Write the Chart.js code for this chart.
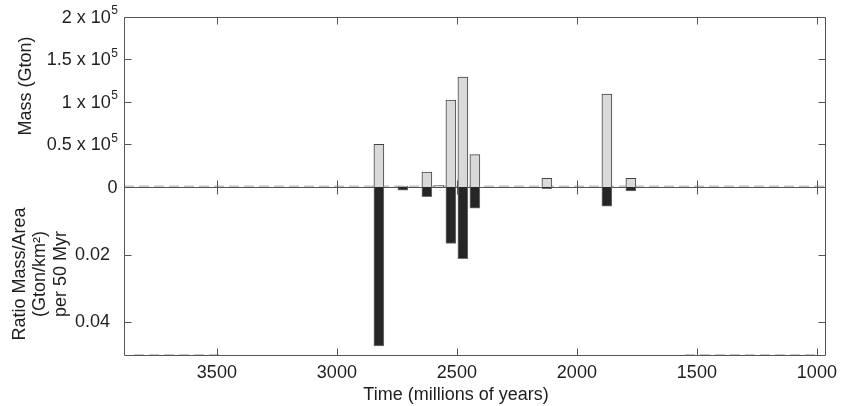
<!DOCTYPE html>
<html>
<head>
<meta charset="utf-8">
<script src="https://cdn.jsdelivr.net/npm/chart.js@4.4.1/dist/chart.umd.min.js"></script>
<style>
  html, body { margin: 0; padding: 0; background: #fff; }
  #wrap { width: 847px; height: 406px; }
</style>
</head>
<body>
<div id="wrap"><canvas id="chart"></canvas></div>
<script>
// bin centres (millions of years) and the two series
const times = [2825, 2725, 2625, 2575, 2525, 2475, 2425, 2125, 1875, 1775];
const massGton = [50000, 800, 17500, 1500, 102000, 129000, 38000, 10000, 109000, 10000];
const ratioPer50 = [0.047, 0.001, 0.0029, 0.0002, 0.0167, 0.0212, 0.0063, 0.0005, 0.0057, 0.0012];

// grey dashed lines (zero level and the bottom segments)
const zeroLineX = [3887, 962];
const zeroLineY = [700, 700];
const floorLineX = [3845, 3475, 3000, 1550, 1000];
const floorLineY = [0.0497, 0.0497, null, 0.0497, 0.0497];

// ticks
const timeTicks = [3500, 3000, 2500, 2000, 1500, 1000];
const timeTickLabels = ['3500', '3000', '2500', '2000', '1500', '1000'];
const massTicks = [0, 50000, 100000, 150000, 200000];
const massTickLabels = ['0', '0.5 x 10^5', '1 x 10^5', '1.5 x 10^5', '2 x 10^5'];
const ratioTicks = [0.02, 0.04];
const ratioTickLabels = ['0.02', '0.04'];

const FONT = '"Liberation Sans", Arial, Helvetica, sans-serif';
const TEXT = '#1e1e1e';
const FRAME = '#555';

const zip = (xs, ys) => xs.map((x, i) => ({ x: x, y: ys[i] }));

function drawSupLabel(ctx, text, xRight, y) {
    const parts = text.split('^');
    let supW = 0;
    ctx.textBaseline = 'middle';
    if (parts[1]) {
        ctx.font = '12px ' + FONT;
        supW = ctx.measureText(parts[1]).width;
        ctx.textAlign = 'left';
        ctx.fillText(parts[1], xRight - supW, y - 7);
    }
    ctx.font = '18px ' + FONT;
    ctx.textAlign = 'right';
    ctx.fillText(parts[0], xRight - supW - 0.5, y);
}

const framePlugin = {
    id: 'frame',
    beforeDatasetsDraw(chart) {
        const { ctx, chartArea: a, scales } = chart;
        const y0 = Math.round(scales.yMass.getPixelForValue(0)) + 0.5;
        ctx.save();
        ctx.strokeStyle = FRAME;
        ctx.lineWidth = 1;
        ctx.beginPath();
        ctx.moveTo(a.left, y0);
        ctx.lineTo(a.right, y0);
        ctx.stroke();
        ctx.restore();
    },
    afterDatasetsDraw(chart) {
        const { ctx, chartArea: a, scales } = chart;
        const x = scales.x, ym = scales.yMass, yr = scales.yRatio;
        const L = Math.round(a.left) + 0.5, R = Math.round(a.right) - 0.5;
        const T = Math.round(a.top) + 0.5, B = Math.round(a.bottom) - 0.5;
        const y0 = Math.round(ym.getPixelForValue(0)) + 0.5;
        const tk = 7;
        ctx.save();
        ctx.strokeStyle = FRAME;
        ctx.lineWidth = 1;
        ctx.beginPath();
        ctx.rect(L, T, R - L, B - T);
        // inward ticks on the time axis: top, bottom and the zero line
        timeTicks.forEach(v => {
            const px = Math.round(x.getPixelForValue(v)) + 0.5;
            ctx.moveTo(px, T); ctx.lineTo(px, T + tk);
            ctx.moveTo(px, B); ctx.lineTo(px, B - tk);
            ctx.moveTo(px, y0 - tk); ctx.lineTo(px, y0 + tk);
        });
        massTicks.forEach(v => {
            const py = Math.round(ym.getPixelForValue(v)) + 0.5;
            ctx.moveTo(L, py); ctx.lineTo(L + tk, py);
            ctx.moveTo(R, py); ctx.lineTo(R - tk, py);
        });
        ratioTicks.forEach(v => {
            const py = Math.round(yr.getPixelForValue(v)) + 0.5;
            ctx.moveTo(L, py); ctx.lineTo(L + tk, py);
            ctx.moveTo(R, py); ctx.lineTo(R - tk, py);
        });
        ctx.stroke();

        // mass tick labels with superscript exponent
        ctx.fillStyle = TEXT;
        massTicks.forEach((v, i) => {
            drawSupLabel(ctx, massTickLabels[i], a.left - 6, ym.getPixelForValue(v) + 1);
        });

        // axis titles
        ctx.font = '18px ' + FONT;
        ctx.textAlign = 'center';
        ctx.textBaseline = 'alphabetic';
        ctx.fillText('Time (millions of years)', 456, 400);

        ctx.save();
        ctx.translate(30.5, 86);
        ctx.rotate(-Math.PI / 2);
        ctx.fillText('Mass (Gton)', 0, 0);
        ctx.restore();

        const ratioTitle = ['Ratio Mass/Area', '(Gton/km\u00b2)', 'per 50 Myr'];
        const baseX = [24.5, 45, 65.5];
        ratioTitle.forEach((t, i) => {
            ctx.save();
            ctx.translate(baseX[i], 274);
            ctx.rotate(-Math.PI / 2);
            ctx.fillText(t, 0, 0);
            ctx.restore();
        });
        ctx.restore();
    }
};

new Chart(document.getElementById('chart'), {
    type: 'bar',
    data: {
        datasets: [
            {
                label: 'Mass',
                data: zip(times, massGton),
                yAxisID: 'yMass',
                backgroundColor: '#d9d9d9',
                borderColor: '#444',
                borderWidth: 1,
                grouped: false,
                barThickness: 10,
                order: 0
            },
            {
                label: 'Ratio',
                data: zip(times, ratioPer50),
                yAxisID: 'yRatio',
                backgroundColor: '#262626',
                borderColor: '#707070',
                borderWidth: 1,
                grouped: false,
                barThickness: 10,
                order: 1
            },
            {
                type: 'line',
                data: zip(zeroLineX, zeroLineY),
                yAxisID: 'yMass',
                borderColor: '#c4c4c4',
                borderWidth: 1.5,
                borderDash: [10, 5],
                pointRadius: 0,
                order: 2
            },
            {
                type: 'line',
                data: zip(floorLineX, floorLineY),
                yAxisID: 'yRatio',
                borderColor: '#b4b4b4',
                borderWidth: 1.5,
                borderDash: [10, 5],
                pointRadius: 0,
                spanGaps: false,
                order: 3
            }
        ]
    },
    options: {
        responsive: true,
        maintainAspectRatio: false,
        animation: false,
        devicePixelRatio: 1,
        layout: { padding: { left: 0, right: 21, top: 15, bottom: 0 } },
        plugins: { legend: { display: false }, tooltip: { enabled: false } },
        scales: {
            x: {
                type: 'linear',
                reverse: true,
                offset: false,
                min: 962,
                max: 3887,
                grid: { display: false, offset: false },
                border: { display: false },
                afterBuildTicks: s => { s.ticks = timeTicks.map(v => ({ value: v })); },
                afterFit: s => { s.height = 50; },
                ticks: {
                    padding: -2,
                    maxRotation: 0,
                    color: TEXT,
                    font: { size: 18, family: FONT },
                    callback: (v, i) => timeTickLabels[i]
                }
            },
            yMass: {
                type: 'linear',
                position: 'left',
                stack: 'panels',
                stackWeight: 171,
                weight: 2,
                min: 0,
                max: 200000,
                grid: { display: false },
                border: { display: false },
                afterBuildTicks: s => { s.ticks = massTicks.map(v => ({ value: v })); },
                afterFit: s => { s.width = 124; },
                ticks: { display: false }
            },
            yRatio: {
                type: 'linear',
                position: 'left',
                stack: 'panels',
                stackWeight: 170,
                weight: 1,
                reverse: true,
                min: 0,
                max: 0.05,
                grid: { display: false },
                border: { display: false },
                afterBuildTicks: s => { s.ticks = ratioTicks.map(v => ({ value: v })); },
                afterFit: s => { s.width = 124; },
                ticks: {
                    padding: 6,
                    color: TEXT,
                    font: { size: 18, family: FONT },
                    callback: (v, i) => ratioTickLabels[i]
                }
            }
        }
    },
    plugins: [framePlugin]
});
</script>
</body>
</html>
